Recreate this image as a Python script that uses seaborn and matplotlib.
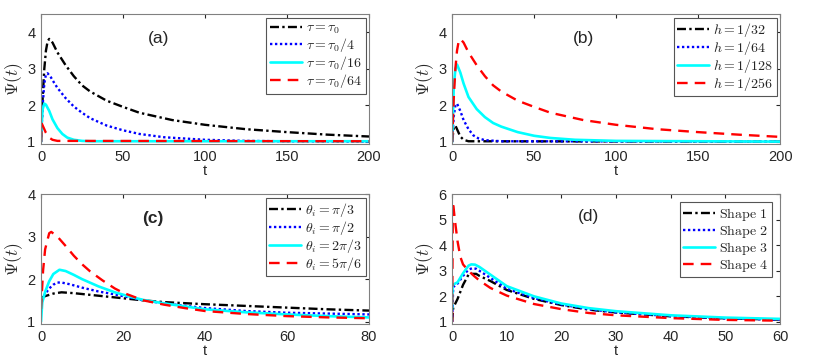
import matplotlib
matplotlib.use('Agg')
import matplotlib.pyplot as plt
import seaborn as sns
import pandas as pd

# ---- panel (a): varying tau ----
a_labels = [r'$\tau = \tau_0$', r'$\tau = \tau_0/4$', r'$\tau = \tau_0/16$', r'$\tau = \tau_0/64$']
a_t1 = [0, 1, 2, 3, 4, 5, 7, 10, 15, 20, 25, 30, 40, 50, 60, 80, 100, 125, 150, 175, 200]
a_y1 = [1.0, 2.2, 3.0, 3.5, 3.75, 3.82, 3.72, 3.45, 3.1, 2.8, 2.55, 2.38, 2.13, 1.96, 1.8, 1.6, 1.47, 1.35, 1.27, 1.2, 1.15]
a_t2 = [0, 1, 2, 3, 4, 6, 8, 10, 15, 20, 25, 30, 40, 50, 60, 75, 100, 125, 150, 200]
a_y2 = [1.0, 2.0, 2.6, 2.85, 2.88, 2.77, 2.62, 2.48, 2.2, 1.97, 1.8, 1.65, 1.45, 1.32, 1.22, 1.13, 1.06, 1.03, 1.02, 1.01]
a_t3 = [0, 0.5, 1, 2, 3, 5, 7, 10, 13, 16, 20, 25, 30, 200]
a_y3 = [1.0, 1.6, 1.9, 2.05, 2.02, 1.85, 1.62, 1.38, 1.22, 1.12, 1.06, 1.03, 1.02, 1.02]
a_t4 = [0, 0.5, 1, 2, 3, 5, 7, 10, 200]
a_y4 = [1.0, 1.5, 1.45, 1.35, 1.25, 1.12, 1.06, 1.03, 1.02]

# ---- panel (b): varying h ----
b_labels = [r'$h = 1/32$', r'$h = 1/64$', r'$h = 1/128$', r'$h = 1/256$']
b_t1 = [0, 1, 2, 3, 5, 7, 10, 200]
b_y1 = [1.0, 1.4, 1.45, 1.35, 1.15, 1.06, 1.02, 1.01]
b_t2 = [0, 1, 2, 3, 5, 7, 10, 13, 16, 20, 30, 200]
b_y2 = [1.0, 1.7, 2.0, 2.05, 1.85, 1.6, 1.35, 1.18, 1.1, 1.05, 1.02, 1.01]
b_t3 = [0, 1, 2, 3, 5, 7, 10, 15, 20, 25, 30, 40, 50, 60, 75, 100, 200]
b_y3 = [1.0, 2.5, 3.0, 3.12, 2.9, 2.6, 2.23, 1.9, 1.68, 1.52, 1.42, 1.27, 1.17, 1.11, 1.06, 1.03, 1.01]
b_t4 = [0, 1, 2, 3, 4, 5, 7, 10, 15, 20, 25, 30, 40, 50, 60, 80, 100, 125, 150, 175, 200]
b_y4 = [1.0, 2.2, 3.0, 3.5, 3.75, 3.82, 3.72, 3.45, 3.1, 2.8, 2.55, 2.38, 2.13, 1.96, 1.8, 1.6, 1.47, 1.35, 1.27, 1.2, 1.14]

# ---- panel (c): varying theta_i ----
c_labels = [r'$\theta_i = \pi/3$', r'$\theta_i = \pi/2$', r'$\theta_i = 2\pi/3$', r'$\theta_i = 5\pi/6$']
c_t1 = [0, 1, 3, 5, 8, 12, 18, 25, 30, 40, 50, 60, 70, 80]
c_y1 = [1.55, 1.6, 1.66, 1.69, 1.67, 1.63, 1.57, 1.5, 1.46, 1.41, 1.37, 1.33, 1.29, 1.26]
c_t2 = [0, 1, 2, 3, 4, 5, 7, 10, 14, 18, 25, 30, 40, 50, 60, 70, 80]
c_y2 = [1.5, 1.65, 1.78, 1.87, 1.92, 1.92, 1.88, 1.8, 1.71, 1.64, 1.5, 1.43, 1.32, 1.25, 1.21, 1.19, 1.17]
c_t3 = [0, 0.3, 1, 2, 3, 4.5, 6, 8, 10, 14, 18, 22, 25, 30, 40, 50, 60, 70, 80]
c_y3 = [1.0, 1.45, 1.7, 1.95, 2.12, 2.22, 2.19, 2.1, 2.0, 1.83, 1.69, 1.58, 1.51, 1.43, 1.29, 1.22, 1.17, 1.13, 1.1]
c_t4 = [0, 0.5, 1, 2, 2.5, 4, 6, 8, 10, 12, 15, 18, 20, 25, 30, 35, 40, 50, 60, 70, 80]
c_y4 = [1.3, 2.2, 2.7, 3.08, 3.11, 3.0, 2.78, 2.55, 2.35, 2.18, 1.97, 1.78, 1.68, 1.5, 1.4, 1.32, 1.25, 1.18, 1.13, 1.1, 1.08]

# ---- panel (d): shapes ----
d_labels = ['Shape 1', 'Shape 2', 'Shape 3', 'Shape 4']
d_t1 = [0, 0.2, 1, 2, 3, 3.5, 4.4, 5, 7, 10, 15, 20, 25, 30, 40, 50, 60]
d_y1 = [1.0, 1.55, 1.9, 2.45, 2.85, 2.88, 2.88, 2.8, 2.6, 2.25, 1.9, 1.66, 1.48, 1.37, 1.22, 1.14, 1.09]
d_t2 = [0, 0.2, 1, 2, 3, 3.7, 4.4, 5, 7, 10, 15, 20, 25, 30, 40, 50, 60]
d_y2 = [1.0, 2.36, 2.5, 2.8, 3.05, 3.1, 3.08, 3.0, 2.72, 2.3, 1.93, 1.68, 1.5, 1.37, 1.23, 1.14, 1.09]
d_t3 = [0, 0.1, 1, 2, 3, 3.5, 4.2, 5, 7, 10, 15, 20, 25, 30, 40, 50, 60]
d_y3 = [1.5, 2.45, 2.55, 2.9, 3.2, 3.25, 3.24, 3.15, 2.85, 2.4, 2.0, 1.72, 1.54, 1.42, 1.26, 1.17, 1.12]
d_t4 = [0, 0.15, 0.5, 1, 1.5, 2, 3, 4, 5, 7, 10, 15, 20, 25, 30, 40, 50, 60]
d_y4 = [1.0, 5.7, 5.0, 4.15, 3.55, 3.25, 3.0, 2.8, 2.62, 2.33, 2.03, 1.7, 1.5, 1.35, 1.26, 1.15, 1.08, 1.05]

colors = ['black', 'blue', 'cyan', 'red']
styles = [(0, (3.8, 1.4, 1.0, 1.4)), (0, (1.0, 1.1)), '-', (0, (4.5, 3.0))]
widths = [1.7, 1.7, 1.9, 1.7]

sns.set_style('white')
plt.rcParams['font.family'] = ['Liberation Sans', 'DejaVu Sans']
plt.rcParams['mathtext.fontset'] = 'cm'

fig = plt.figure(figsize=(8.22, 3.6), dpi=100)
positions = [[0.0499, 0.600, 0.399, 0.361], [0.550, 0.600, 0.399, 0.361],
             [0.0499, 0.100, 0.399, 0.361], [0.550, 0.100, 0.399, 0.361]]

panels = [
    ('(a)', a_labels, [(a_t1, a_y1), (a_t2, a_y2), (a_t3, a_y3), (a_t4, a_y4)], (0, 200), (0.945, 4.5), [0, 50, 100, 150, 200], [1, 2, 3, 4], (0.357, 0.815), 'normal'),
    ('(b)', b_labels, [(b_t1, b_y1), (b_t2, b_y2), (b_t3, b_y3), (b_t4, b_y4)], (0, 200), (0.945, 4.5), [0, 50, 100, 150, 200], [1, 2, 3, 4], (0.40, 0.815), 'normal'),
    ('(c)', c_labels, [(c_t1, c_y1), (c_t2, c_y2), (c_t3, c_y3), (c_t4, c_y4)], (0, 80), (0.945, 4.0), [0, 20, 40, 60, 80], [1, 2, 3, 4], (0.34, 0.815), 'bold'),
    ('(d)', d_labels, [(d_t1, d_y1), (d_t2, d_y2), (d_t3, d_y3), (d_t4, d_y4)], (0, 60), (0.92, 6.0), [0, 10, 20, 30, 40, 50, 60], [1, 2, 3, 4, 5, 6], (0.415, 0.83), 'normal'),
]

for pos, (tag, labels, series, xlim, ylim, xt, yt, tagpos, tagweight) in zip(positions, panels):
    ax = fig.add_axes(pos)
    if tag == '(d)':
        # Computer Modern roman for the plain-text legend entries
        labels = [r'$\mathrm{' + s.replace(' ', r'\ ') + '}$' for s in labels]
    for i, (tt, yy) in enumerate(series):
        df = pd.DataFrame({'t': tt, 'psi': yy})
        sns.lineplot(data=df, x='t', y='psi', ax=ax, color=colors[i],
                     linestyle=styles[i], linewidth=widths[i], label=labels[i])
    ax.set_xlim(*xlim)
    ax.set_ylim(*ylim)
    ax.set_xticks(xt)
    ax.set_yticks(yt)
    ax.tick_params(direction='in', length=3, top=True, right=True,
                   labelsize=10.5, colors='#262626', pad=4)
    for sp in ax.spines.values():
        sp.set_color('#808080')
        sp.set_linewidth(0.8)
    ax.set_xlabel('t', fontsize=10.5, labelpad=0, color='#262626')
    ax.set_ylabel(r'$\Psi(t)$', fontsize=12.5, labelpad=2, color='#262626')
    ax.text(tagpos[0], tagpos[1], tag, transform=ax.transAxes, ha='center',
            va='center', fontsize=12.5, fontweight=tagweight)
    pad = 0.6 if tag == '(d)' else 0.25
    leg = ax.legend(loc='upper right', fontsize=10, handlelength=2.3,
                    handletextpad=0.3, borderpad=0.25, labelspacing=0.0,
                    borderaxespad=pad, fancybox=False, framealpha=1,
                    edgecolor='#555555')
    leg.get_frame().set_linewidth(0.8)

fig.savefig('out.png', dpi=100)
